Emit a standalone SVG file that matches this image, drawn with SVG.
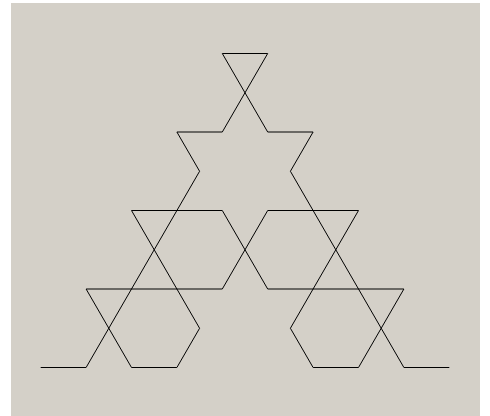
<svg xmlns="http://www.w3.org/2000/svg" width="490" height="416" viewBox="0 0 490 416">
<style>
.curve{fill:none;stroke:#000;stroke-width:1;stroke-linejoin:miter}
</style>
<rect x="0" y="0" width="490" height="416" fill="#ffffff"/>
<rect x="11" y="3" width="469" height="413" fill="#d4d0c8"/>
<polyline class="curve" points="40.7,367.5 86.1,367.5 199.6,171.25 176.9,132 222.3,132 267.7,53.5 222.3,53.5 267.7,132 313.1,132 290.4,171.25 403.9,367.5 449.3,367.5"/>
<polygon class="curve" points="131.5,210.5 199.6,328.25 176.9,367.5 131.5,367.5 86.1,289 222.3,289 267.7,210.5 358.5,210.5 290.4,328.25 313.1,367.5 358.5,367.5 403.9,289 267.7,289 222.3,210.5"/>
</svg>
